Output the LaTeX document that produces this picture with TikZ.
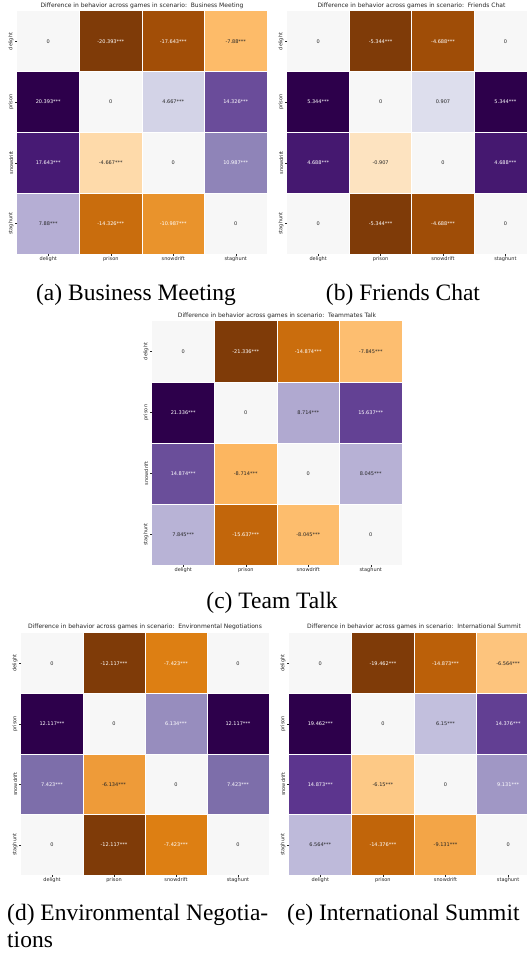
\documentclass[tikz,border=0pt]{standalone}
\usepackage{fontspec}
\usepackage{tikz}
\setmainfont{Liberation Serif}
\newfontfamily\plotfont{DejaVu Sans}
\usetikzlibrary{positioning}

\definecolor{po0}{HTML}{7F3B08}
\definecolor{po1}{HTML}{B35806}
\definecolor{po2}{HTML}{E08214}
\definecolor{po3}{HTML}{FDB863}
\definecolor{po4}{HTML}{FEE0B6}
\definecolor{po5}{HTML}{F7F7F7}
\definecolor{po6}{HTML}{D8DAEB}
\definecolor{po7}{HTML}{B2ABD2}
\definecolor{po8}{HTML}{8073AC}
\definecolor{po9}{HTML}{542788}
\definecolor{po10}{HTML}{2D004B}
\definecolor{inkgray}{HTML}{262626}

\tikzset{
    dk/.style={text=inkgray},
    lt/.style={text=white},
    val/.style={font=\plotfont\fontsize{5}{6}\selectfont, inner sep=0pt},
    ticklab/.style={font=\plotfont\fontsize{5}{6}\selectfont, inner sep=0pt, text=inkgray},
    ttl/.style={font=\plotfont\fontsize{6}{7}\selectfont, inner sep=0pt, text=inkgray},
    capt/.style={font=\fontsize{23.5}{26.5}\selectfont, inner sep=0pt, anchor=base},
    gridline/.style={white, line width=.7pt},
    tickmark/.style={inkgray, line width=.3pt},
}

\begin{document}
\begin{tikzpicture}[x=1pt,y=-1pt]
    \fill[white] (0,0) rectangle (527,953);
    \useasboundingbox (0,0) rectangle (527,953);

    \node[ttl] (ta) at (142,5.5) {Difference in behavior across games in scenario:~~Business Meeting};
    \begin{scope}[shift={(17pt,-11pt)}, x=62.5pt, y=-60.75pt]
        \foreach \row/\col/\clr/\txt/\val in {
            0/0/po5/dk/0, 0/1/po0/lt/-20.393***, 0/2/po1!67!po0/lt/-17.643***, 0/3/po4!7!po3/dk/-7.88***,
            1/0/po10/lt/20.393***, 1/1/po5/dk/0, 1/2/po7!14!po6/dk/4.667***, 1/3/po9!51!po8/lt/14.326***,
            2/0/po10!33!po9/lt/17.643***, 2/1/po4!86!po3/dk/-4.667***, 2/2/po5/dk/0, 2/3/po8!69!po7/lt/10.987***,
            3/0/po7!93!po6/dk/7.88***, 3/1/po2!49!po1/lt/-14.326***, 3/2/po3!31!po2/lt/-10.987***, 3/3/po5/dk/0} {
            \fill[fill=\clr] (\col,\row) rectangle ++(1,1);
            \node[val,\txt] (a\row\col) at (\col+.5,\row+.5) {\val};
        }
        \foreach \k in {1,2,3} {
            \draw[gridline] (\k,0) -- (\k,4);
            \draw[gridline] (0,\k) -- (4,\k);
        }
        \foreach \g [count=\k from 0] in {delight,prison,snowdrift,staghunt} {
            \draw[tickmark] (\k+.5,4) -- ++(0pt,-2pt);
            \node[ticklab, below=2.5pt] (ax\k) at (\k+.5,4) {\g};
            \draw[tickmark] (0,\k+.5) -- ++(-2pt,0pt);
            \node[ticklab, rotate=90, anchor=south] (ay\k) at ([xshift=-3.5pt]0,\k+.5) {\g};
        }
    \end{scope}
    \node[capt] (capa) at (136,300.5) {(a) Business Meeting};

    \node[ttl] (tb) at (411.5,5.5) {Difference in behavior across games in scenario:~~Friends Chat};
    \begin{scope}[shift={(287pt,-11pt)}, x=62.4pt, y=-60.75pt]
        \foreach \row/\col/\clr/\txt/\val in {
            0/0/po5/dk/0, 0/1/po0/lt/-5.344***, 0/2/po1!61!po0/lt/-4.688***, 0/3/po5/dk/0,
            1/0/po10/lt/5.344***, 1/1/po5/dk/0, 1/2/po6!85!po5/dk/0.907, 1/3/po10/lt/5.344***,
            2/0/po10!39!po9/lt/4.688***, 2/1/po5!15!po4/dk/-0.907, 2/2/po5/dk/0, 2/3/po10!39!po9/lt/4.688***,
            3/0/po5/dk/0, 3/1/po0/lt/-5.344***, 3/2/po1!61!po0/lt/-4.688***, 3/3/po5/dk/0} {
            \fill[fill=\clr] (\col,\row) rectangle ++(1,1);
            \node[val,\txt] (b\row\col) at (\col+.5,\row+.5) {\val};
        }
        \foreach \k in {1,2,3} {
            \draw[gridline] (\k,0) -- (\k,4);
            \draw[gridline] (0,\k) -- (4,\k);
        }
        \foreach \g [count=\k from 0] in {delight,prison,snowdrift,staghunt} {
            \draw[tickmark] (\k+.5,4) -- ++(0pt,-2pt);
            \node[ticklab, below=2.5pt] (bx\k) at (\k+.5,4) {\g};
            \draw[tickmark] (0,\k+.5) -- ++(-2pt,0pt);
            \node[ticklab, rotate=90, anchor=south] (by\k) at ([xshift=-3.5pt]0,\k+.5) {\g};
        }
    \end{scope}
    \node[capt] (capb) at (403,300.5) {(b) Friends Chat};

    \node[ttl] (tc) at (277,316) {Difference in behavior across games in scenario:~~Teammates Talk};
    \begin{scope}[shift={(152pt,-321pt)}, x=62.5pt, y=-61pt]
        \foreach \row/\col/\clr/\txt/\val in {
            0/0/po5/dk/0, 0/1/po0/lt/-21.336***, 0/2/po2!51!po1/lt/-14.874***, 0/3/po4!16!po3/dk/-7.845***,
            1/0/po10/lt/21.336***, 1/1/po5/dk/0, 1/2/po8!4!po7/dk/8.714***, 1/3/po9!66!po8/lt/15.637***,
            2/0/po9!49!po8/lt/14.874***, 2/1/po3!96!po2/dk/-8.714***, 2/2/po5/dk/0, 2/3/po7!88!po6/dk/8.045***,
            3/0/po7!84!po6/dk/7.845***, 3/1/po2!33!po1/lt/-15.637***, 3/2/po4!12!po3/dk/-8.045***, 3/3/po5/dk/0} {
            \fill[fill=\clr] (\col,\row) rectangle ++(1,1);
            \node[val,\txt] (c\row\col) at (\col+.5,\row+.5) {\val};
        }
        \foreach \k in {1,2,3} {
            \draw[gridline] (\k,0) -- (\k,4);
            \draw[gridline] (0,\k) -- (4,\k);
        }
        \foreach \g [count=\k from 0] in {delight,prison,snowdrift,staghunt} {
            \draw[tickmark] (\k+.5,4) -- ++(0pt,-2pt);
            \node[ticklab, below=2.5pt] (cx\k) at (\k+.5,4) {\g};
            \draw[tickmark] (0,\k+.5) -- ++(-2pt,0pt);
            \node[ticklab, rotate=90, anchor=south] (cy\k) at ([xshift=-3.5pt]0,\k+.5) {\g};
        }
    \end{scope}
    \node[capt] (capc) at (272,608.5) {(c) Team Talk};

    \node[ttl] (td) at (145,627) {Difference in behavior across games in scenario:~~Environmental Negotiations};
    \begin{scope}[shift={(21pt,-633pt)}, x=62pt, y=-60.5pt]
        \foreach \row/\col/\clr/\txt/\val in {
            0/0/po5/dk/0, 0/1/po0/lt/-12.117***, 0/2/po2!94!po1/lt/-7.423***, 0/3/po5/dk/0,
            1/0/po10/lt/12.117***, 1/1/po5/dk/0, 1/2/po8!53!po7/lt/6.134***, 1/3/po10/lt/12.117***,
            2/0/po9!6!po8/lt/7.423***, 2/1/po3!47!po2/dk/-6.134***, 2/2/po5/dk/0, 2/3/po9!6!po8/lt/7.423***,
            3/0/po5/dk/0, 3/1/po0/lt/-12.117***, 3/2/po2!94!po1/lt/-7.423***, 3/3/po5/dk/0} {
            \fill[fill=\clr] (\col,\row) rectangle ++(1,1);
            \node[val,\txt] (d\row\col) at (\col+.5,\row+.5) {\val};
        }
        \foreach \k in {1,2,3} {
            \draw[gridline] (\k,0) -- (\k,4);
            \draw[gridline] (0,\k) -- (4,\k);
        }
        \foreach \g [count=\k from 0] in {delight,prison,snowdrift,staghunt} {
            \draw[tickmark] (\k+.5,4) -- ++(0pt,-2pt);
            \node[ticklab, below=2.5pt] (dx\k) at (\k+.5,4) {\g};
            \draw[tickmark] (0,\k+.5) -- ++(-2pt,0pt);
            \node[ticklab, rotate=90, anchor=south] (dy\k) at ([xshift=-3.5pt]0,\k+.5) {\g};
        }
    \end{scope}
    \node[capt, anchor=base west, align=left] (capd) at (7,947) {(d) Environmental Negotia-\\tions};

    \node[ttl] (te) at (414,627) {Difference in behavior across games in scenario:~~International Summit};
    \begin{scope}[shift={(289pt,-633pt)}, x=62.6pt, y=-60.5pt]
        \foreach \row/\col/\clr/\txt/\val in {
            0/0/po5/dk/0, 0/1/po0/lt/-19.462***, 0/2/po2!18!po1/lt/-14.873***, 0/3/po4!31!po3/dk/-6.564***,
            1/0/po10/lt/19.462***, 1/1/po5/dk/0, 1/2/po7!58!po6/dk/6.15***, 1/3/po9!69!po8/lt/14.376***,
            2/0/po9!82!po8/lt/14.873***, 2/1/po4!42!po3/dk/-6.15***, 2/2/po5/dk/0, 2/3/po8!35!po7/lt/9.131***,
            3/0/po7!69!po6/dk/6.564***, 3/1/po2!31!po1/lt/-14.376***, 3/2/po3!65!po2/dk/-9.131***, 3/3/po5/dk/0} {
            \fill[fill=\clr] (\col,\row) rectangle ++(1,1);
            \node[val,\txt] (e\row\col) at (\col+.5,\row+.5) {\val};
        }
        \foreach \k in {1,2,3} {
            \draw[gridline] (\k,0) -- (\k,4);
            \draw[gridline] (0,\k) -- (4,\k);
        }
        \foreach \g [count=\k from 0] in {delight,prison,snowdrift,staghunt} {
            \draw[tickmark] (\k+.5,4) -- ++(0pt,-2pt);
            \node[ticklab, below=2.5pt] (ex\k) at (\k+.5,4) {\g};
            \draw[tickmark] (0,\k+.5) -- ++(-2pt,0pt);
            \node[ticklab, rotate=90, anchor=south] (ey\k) at ([xshift=-3.5pt]0,\k+.5) {\g};
        }
    \end{scope}
    \node[capt, anchor=base west] (cape) at (287,920.5) {(e) International Summit};
\end{tikzpicture}
\end{document}
